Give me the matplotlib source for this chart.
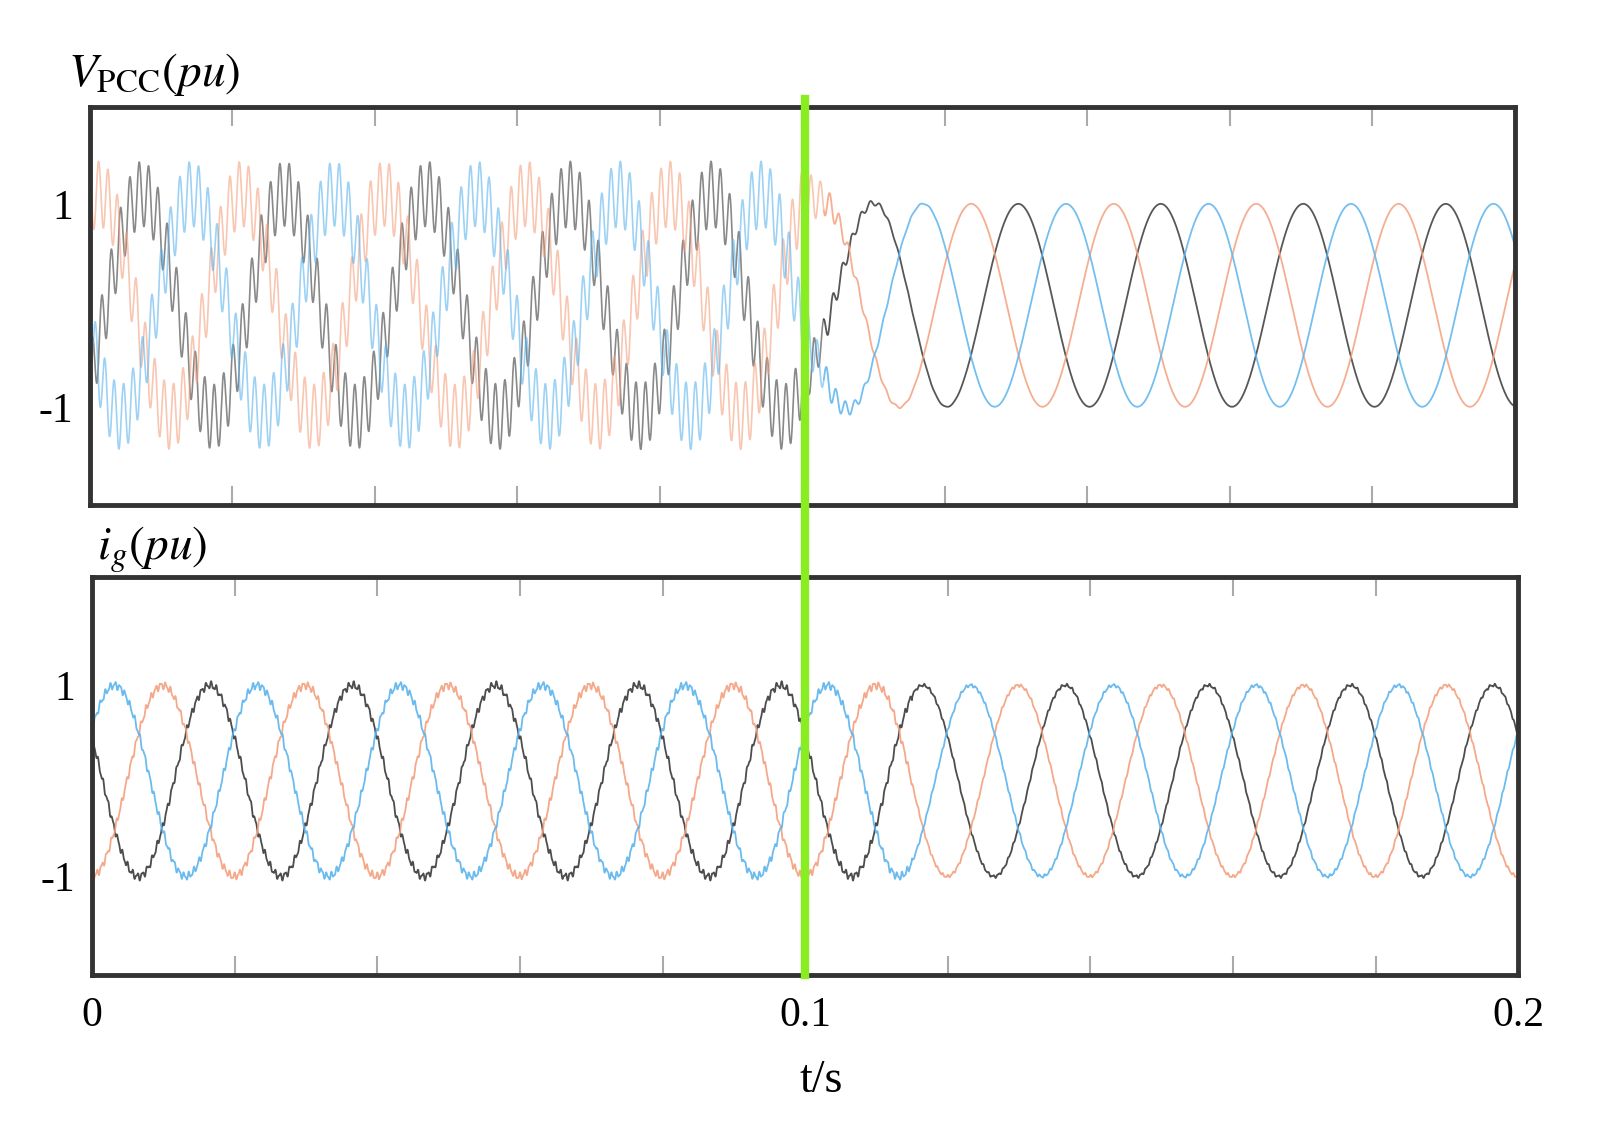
import numpy as np
import matplotlib.pyplot as plt
from matplotlib.lines import Line2D

plt.rcParams['font.family'] = ['Liberation Serif', 'DejaVu Serif']
plt.rcParams['mathtext.fontset'] = 'stix'

# ---------------- DATA ----------------
f0 = 50.0                          # fundamental, Hz
t_step = 0.1                       # disturbance removed at t=0.1 s
phase_names = ["a", "b", "c"]
colors = ["#3a3a3a", "#f4a07e", "#5cb4ee"]
# peak times of each phase (s): black, orange, blue
v_peak_pre = [0.0073, 0.0213, 0.0143]
v_peak_post = [0.0103, 0.0037, 0.0170]
i_peak = [0.0165, 0.0099, 0.0032]
v_amp_pre = [1.1, 1.1, 1.1]        # envelope amplitude before 0.1 s
v_amp_post = [1.0, 1.0, 1.0]
v_ripple = 0.32                    # ripple amplitude before 0.1 s
v_ripple_f = 760.0
i_amp = [1.0, 1.0, 1.0]
i_ripple = 0.03
i_ripple_f = 1450.0
decay_tau = 0.004

t = np.linspace(0, 0.2, 10000)

fig = plt.figure(figsize=(16.1, 11.43), dpi=100)
ax1 = fig.add_axes([0.0559, 0.558, 0.885, 0.348])
ax2 = fig.add_axes([0.0571, 0.147, 0.886, 0.348])

# ---------------- V_PCC ----------------
env = np.where(t < t_step, 1.0, np.exp(-(t - t_step) / decay_tau))
for k in range(3):
    dp = (v_peak_post[k] - v_peak_pre[k] + 0.01) % 0.02 - 0.01
    tp = v_peak_pre[k] + dp * (1 - env)
    w = 2 * np.pi * f0 * (t - tp)
    amp = v_amp_post[k] + (v_amp_pre[k] - v_amp_post[k]) * env
    rip = v_ripple * env * np.sin(2 * np.pi * v_ripple_f * t + 2.1 * k)
    y = amp * np.cos(w) + rip
    pre = t <= t_step + 0.003
    ax1.plot(t[pre], y[pre], color=colors[k], lw=1.2, alpha=0.6)
    ax1.plot(t[~pre], y[~pre], color=colors[k], lw=1.3, alpha=0.85)

# ---------------- i_g ----------------
ienv = np.where(t < t_step + 0.015, 1.0, 0.4)
for k in range(3):
    w = 2 * np.pi * f0 * (t - i_peak[k])
    rip = i_ripple * ienv * (np.sin(2 * np.pi * i_ripple_f * t + 1.7 * k)
                             + 0.5 * np.sin(2 * np.pi * 2650 * t + k))
    ax2.plot(t, i_amp[k] * np.cos(w) + rip, color=colors[k], lw=1.3, alpha=0.9)

ax1.set_ylim(-1.97, 1.95)
ax2.set_ylim(-2.03, 2.13)
for ax in (ax1, ax2):
    ax.set_xlim(0, 0.2)
    for s in ax.spines.values():
        s.set_color('#333333')
        s.set_linewidth(3.5)
    ax.set_yticks([-1, 1])
    ax.set_yticklabels(['-1', '1'], fontsize=30)
    ax.tick_params(axis='y', length=0, pad=12)
    ax.set_xticks(np.arange(0.02, 0.2, 0.02))
    ax.tick_params(axis='x', direction='in', top=True, bottom=True,
                   length=14, width=1.5, color='#aaaaaa', labelbottom=False)

for x, lab in [(0, '0'), (0.1, '0.1'), (0.2, '0.2')]:
    ax2.text(x, -2.25, lab, fontsize=30, ha='center', va='top',
             transform=ax2.transData)
fig.text(0.51, 0.045, 't/s', fontsize=33, ha='center')

fig.text(0.042, 0.925, r'$V_{\mathrm{PCC}}(pu)$', fontsize=34)
fig.text(0.060, 0.51, r'$i_{g}(pu)$', fontsize=34)

fig.add_artist(Line2D([0.5, 0.5], [0.147, 0.913], transform=fig.transFigure,
                      color='#88ee22', lw=6))

fig.savefig('out.png', dpi=100)
